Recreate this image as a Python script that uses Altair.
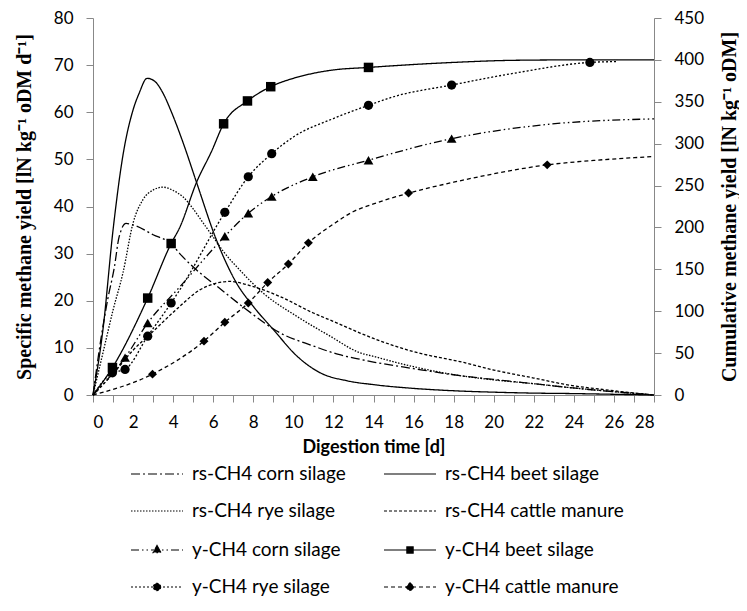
import altair as alt
import pandas as pd

# ---- rate of specific methane yield (left axis) ----
rs_corn_days = [0, 0.4, 0.73, 1.07, 1.3, 1.65, 2.07, 3, 3.9, 4.33, 5.57, 6, 7.67, 9.33, 11, 12.26, 13.3, 14, 16, 18.5, 20, 22, 23.5, 26, 28]
rs_corn_vals = [0, 12, 20.2, 27.2, 33.5, 36.4, 36, 34, 32.1, 30, 25.1, 23.7, 18.1, 13.2, 10.4, 8.6, 7.6, 7, 5.6, 4, 3.3, 2.4, 1.7, 0.7, 0]

rs_beet_days = [0, 0.5, 1, 1.5, 2, 2.3, 2.7, 3.1, 3.5, 3.9, 4.5, 5.17, 6.17, 7.17, 8, 9, 10.17, 11.3, 12.7, 14, 16, 18, 20, 22, 24, 26, 28]
rs_beet_vals = [0, 14, 35, 51, 60.5, 64, 67.2, 66.5, 64, 60.2, 53.5, 45.1, 32.8, 23.7, 18.8, 13.9, 8.3, 4.8, 3.0, 2.2, 1.4, 0.9, 0.6, 0.4, 0.3, 0.15, 0]

rs_rye_days = [0, 0.5, 1, 1.5, 2, 2.5, 3, 3.5, 4, 4.5, 5, 5.5, 6, 6.5, 7.33, 8.5, 10.17, 11.83, 13.3, 14, 16, 18.5, 20, 22, 23.5, 26, 28]
rs_rye_vals = [0, 9, 18, 26, 36.5, 41.5, 43.5, 44.1, 43.4, 42, 39.5, 36.5, 33.5, 30.5, 26.5, 21.6, 16.7, 12.5, 9, 8.2, 6, 4, 3.2, 2.4, 1.7, 0.7, 0]

rs_cattle_days = [0, 1, 2, 3, 4.33, 5.33, 6.83, 8, 9.33, 11, 12, 13.3, 14, 16, 18.5, 20, 22, 23.5, 26, 28]
rs_cattle_vals = [0, 4.5, 9.5, 13.5, 18.8, 22.3, 24.1, 23, 20.9, 17.4, 15.6, 13.2, 12, 9.2, 6.9, 5.3, 3.6, 2.3, 0.9, 0]

# ---- cumulative methane yield (right axis) ----
y_corn_days = [0, 1.6, 2.73, 4.33, 6.58, 7.75, 8.92, 10.97, 13.75, 17.9, 22.7, 28]
y_corn_vals = [0, 44.6, 86, 129, 189.5, 217, 237, 260.5, 280.3, 306, 323, 329.6]

y_beet_days = [0, 0.97, 2.73, 3.9, 4.33, 5.17, 5.92, 6.52, 7.71, 8.87, 10, 11, 12, 13.75, 16, 18, 21, 24, 28]
y_beet_vals = [0, 32.8, 115.7, 180.8, 200, 254, 291, 323.7, 351, 368, 378, 384, 388, 391, 394.5, 397, 399.5, 400, 400]

y_rye_days = [0, 0.97, 1.6, 2.73, 3.9, 4.33, 6.58, 7.75, 8.92, 10, 12, 13.75, 15, 17.9, 21, 24.8, 26.2]
y_rye_vals = [0, 26.5, 30.5, 70.2, 109.8, 125.5, 218, 260.5, 288, 308, 330, 345.8, 356, 370, 384, 397, 398]

y_cattle_days = [0, 2.97, 5.54, 6.58, 7.75, 8.72, 9.75, 10.75, 12, 13, 14, 15.75, 18, 20, 22.67, 25, 28]
y_cattle_vals = [0, 24.9, 64.3, 86.8, 109.8, 134.2, 156.3, 181.6, 204, 219, 228, 241, 254, 264, 274.7, 280, 284.6]

# ---- measured points drawn as markers ----
mk_corn_days = [1.6, 2.73, 6.58, 7.75, 8.92, 10.97, 13.75, 17.9]
mk_corn_vals = [44.6, 86, 189.5, 217, 237, 260.5, 280.3, 306]
mk_beet_days = [0.97, 2.73, 3.9, 6.52, 7.71, 8.87, 13.75]
mk_beet_vals = [32.8, 115.7, 180.8, 323.7, 351, 368, 391]
mk_rye_days = [0.97, 1.6, 2.73, 3.9, 6.58, 7.75, 8.92, 13.75, 17.9, 24.8]
mk_rye_vals = [26.5, 30.5, 70.2, 109.8, 218, 260.5, 288, 345.8, 370, 397]
mk_cattle_days = [2.97, 5.54, 6.58, 7.75, 8.72, 9.75, 10.75, 15.75, 22.67]
mk_cattle_vals = [24.9, 64.3, 86.8, 109.8, 134.2, 156.3, 181.6, 241, 274.7]

rs_names = ["rs-CH4 corn silage", "rs-CH4 beet silage",
            "rs-CH4 rye silage", "rs-CH4 cattle manure"]
y_names = ["y-CH4 corn silage", "y-CH4 beet silage",
           "y-CH4 rye silage", "y-CH4 cattle manure"]


def frame(days, vals, name):
    return pd.DataFrame({"day": days, "value": vals, "series": name})


rs_df = pd.concat([
    frame(rs_corn_days, rs_corn_vals, rs_names[0]),
    frame(rs_beet_days, rs_beet_vals, rs_names[1]),
    frame(rs_rye_days, rs_rye_vals, rs_names[2]),
    frame(rs_cattle_days, rs_cattle_vals, rs_names[3]),
])
cum_df = pd.concat([
    frame(y_corn_days, y_corn_vals, y_names[0]),
    frame(y_beet_days, y_beet_vals, y_names[1]),
    frame(y_rye_days, y_rye_vals, y_names[2]),
    frame(y_cattle_days, y_cattle_vals, y_names[3]),
])
mk_df = pd.concat([
    frame(mk_corn_days, mk_corn_vals, y_names[0]),
    frame(mk_beet_days, mk_beet_vals, y_names[1]),
    frame(mk_rye_days, mk_rye_vals, y_names[2]),
    frame(mk_cattle_days, mk_cattle_vals, y_names[3]),
])
legend_df = pd.DataFrame({"series": y_names})

rs_dashes = [[9, 3, 2, 3], [1, 0], [1.5, 1.5], [3, 2]]
y_dashes = [[8, 3, 1.5, 3, 1.5, 3], [1, 0], [2, 2], [4, 3]]
marker_shapes = ["triangle-up", "square", "circle", "diamond"]
legend_paths = [
    "M-1,0L1,0M0,-0.17L0.15,0.1L-0.15,0.1Z",
    "M-1,0L1,0M-0.12,-0.12L0.12,-0.12L0.12,0.12L-0.12,0.12Z",
    "M-1,0L1,0M0.14,0A0.14,0.14,0,1,1,-0.14,0A0.14,0.14,0,1,1,0.14,0Z",
    "M-1,0L1,0M0,-0.16L0.16,0L0,0.16L-0.16,0Z",
]

common_legend = dict(
    title=None, orient="none", columns=2, direction="horizontal",
    symbolSize=2704, symbolStrokeWidth=1.2, symbolStrokeColor="black",
    labelFont="Lato", labelFontSize=19, labelColor="black", labelOffset=8,
    rowPadding=0, labelLimit=300, padding=0, legendX=37,
)
rs_legend = alt.Legend(legendY=429, columnPadding=35,
                       symbolType="stroke", **common_legend)
y_legend = alt.Legend(legendY=505, columnPadding=40,
                      symbolFillColor="black", **common_legend)

x_enc = alt.X(
    "day:Q",
    scale=alt.Scale(domain=[0, 28], nice=False),
    axis=alt.Axis(
        values=list(range(0, 29)),
        labelExpr="datum.value % 2 == 0 ? datum.label : ''",
        title="Digestion time [d]", titleFont="Lato", titleFontWeight="bold",
        titleFontSize=18, titlePadding=8, labelPadding=12, tickSize=7,
        grid=False,
    ),
)

rs_lines = alt.Chart(rs_df).mark_line(
    interpolate="monotone", strokeWidth=1.3, color="black"
).encode(
    x=x_enc,
    y=alt.Y("value:Q", scale=alt.Scale(domain=[0, 80], nice=False),
            axis=alt.Axis(values=list(range(0, 81, 10)),
                          title="Specific methane yield [lN kg⁻¹ oDM d⁻¹]",
                          titleFont="Liberation Serif", titleFontSize=20,
                          titleFontWeight="bold", titlePadding=19,
                          labelPadding=13, tickSize=7, grid=False)),
    strokeDash=alt.StrokeDash("series:N",
                              scale=alt.Scale(domain=rs_names, range=rs_dashes),
                              legend=rs_legend),
)

cum_lines = alt.Chart(cum_df).mark_line(
    interpolate="monotone", strokeWidth=1.3, color="black"
).encode(
    x=x_enc,
    y=alt.Y("value:Q", scale=alt.Scale(domain=[0, 450], nice=False),
            axis=alt.Axis(orient="right", values=list(range(0, 451, 50)),
                          title="Cumulative methane yield [lN kg⁻¹ oDM]",
                          titleFont="Liberation Serif", titleFontSize=20,
                          titleFontWeight="bold", titleAngle=270, titlePadding=36,
                          labelPadding=13, tickSize=7, grid=False)),
    strokeDash=alt.StrokeDash("series:N",
                              scale=alt.Scale(domain=y_names, range=y_dashes),
                              legend=None),
)

markers = alt.Chart(mk_df).mark_point(
    filled=True, color="black", opacity=1
).encode(
    x=x_enc,
    y=alt.Y("value:Q", scale=alt.Scale(domain=[0, 450], nice=False), axis=None),
    shape=alt.Shape("series:N",
                    scale=alt.Scale(domain=y_names, range=marker_shapes),
                    legend=None),
    size=alt.Size("series:N",
                  scale=alt.Scale(domain=y_names, range=[95, 80, 125, 115]),
                  legend=None),
)

legend_layer = alt.Chart(legend_df).transform_filter("false").mark_point(
    filled=False, fill="black", strokeWidth=1.2, opacity=1
).encode(
    shape=alt.Shape("series:N",
                    scale=alt.Scale(domain=y_names, range=legend_paths),
                    legend=y_legend),
    strokeDash=alt.StrokeDash("series:N",
                              scale=alt.Scale(domain=y_names, range=y_dashes),
                              legend=y_legend),
    stroke=alt.Stroke("series:N",
                      scale=alt.Scale(domain=y_names,
                                      range=["black", "black", "black", "black"]),
                      legend=y_legend),
)

chart = alt.layer(rs_lines, cum_lines, markers, legend_layer).resolve_scale(
    y="independent", strokeDash="independent", shape="independent",
    size="independent", stroke="independent"
).properties(
    width=561, height=377,
    autosize=alt.AutoSizeParams(type="none"),
    padding={"left": 85, "top": 10, "right": 85, "bottom": 203},
).configure_view(
    strokeWidth=0
).configure_axis(
    labelFont="Lato", labelFontSize=17, labelColor="black",
    domainColor="#888888", tickColor="#888888", titleColor="black",
)

chart.save("out.html", embed_options={"renderer": "svg", "actions": False})
